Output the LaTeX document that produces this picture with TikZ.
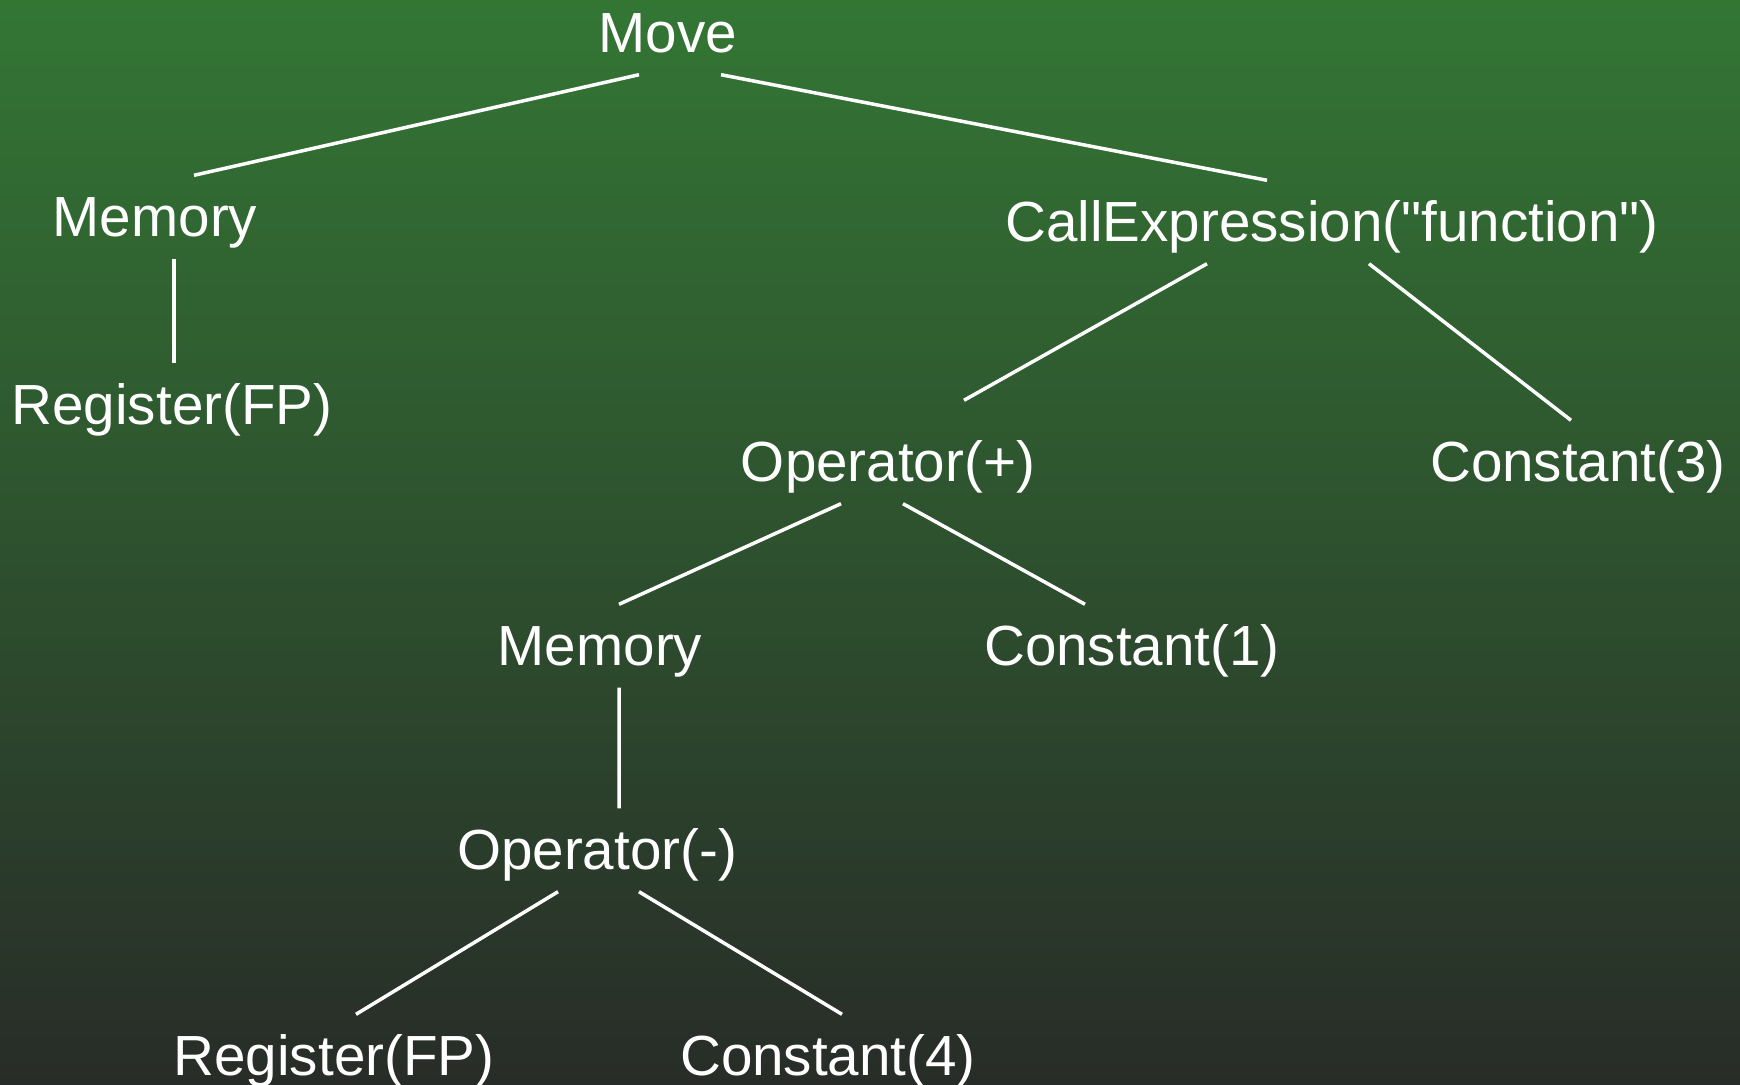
\documentclass[tikz,border=0pt]{standalone}
\usepackage{fontspec}
\setmainfont{Liberation Sans}
\usepackage{xcolor}
\usetikzlibrary{positioning}

\definecolor{bgtop}{HTML}{337634}
\definecolor{bgbottom}{HTML}{282C28}

\begin{document}
\begin{tikzpicture}[
  treenode/.style={anchor=base, text=white, inner sep=0pt,
                   font=\fontsize{16.1}{19}\selectfont,
                   text height=6mm, text depth=2.2mm},
  branch/.style={draw=white, line width=0.35mm}
]
% ---- BACKGROUND ----
\shade[top color=bgtop, bottom color=bgbottom] (0, 0) rectangle (17.4, -10.85);
\useasboundingbox (0, 0) rectangle (17.4, -10.85);

% ---- NODES ----
\node[treenode] (move) at (6.68, -0.52) {Move};

\node[treenode] (mem1) at (1.55, -2.36) {Memory};
\node[treenode] (call) at (13.32, -2.41) {CallExpression(\textquotedbl function\textquotedbl)};

\node[treenode] (reg1) at (1.72, -4.24) {Register(FP)};
\node[treenode] (opplus) at (8.88, -4.81) {Operator(+)};
\node[treenode] (const3) at (15.78, -4.81) {Constant(3)};

\node[treenode] (mem2) at (6.00, -6.65) {Memory};
\node[treenode] (const1) at (11.32, -6.65) {Constant(1)};

\node[treenode] (opminus) at (5.97, -8.69) {Operator(-)};

\node[treenode] (reg2) at (3.34, -10.75) {Register(FP)};
\node[treenode] (const4) at (8.28, -10.75) {Constant(4)};

% ---- BRANCHES ----
\draw[branch] ([xshift=-0.29cm]move.south) -- ([xshift=0.39cm]mem1.north);
\draw[branch] ([xshift=0.53cm]move.south) -- ([xshift=-0.65cm]call.north);

\draw[branch] ([xshift=0.19cm]mem1.south) -- ([xshift=0.02cm]reg1.north);

\draw[branch] ([xshift=-1.25cm]call.south) -- ([xshift=0.76cm, yshift=2mm]opplus.north);
\draw[branch] ([xshift=0.37cm]call.south) -- ([xshift=-0.07cm]const3.north);

\draw[branch] ([xshift=-0.47cm]opplus.south) -- ([xshift=0.19cm]mem2.north);
\draw[branch] ([xshift=0.15cm]opplus.south) -- ([xshift=-0.47cm]const1.north);

\draw[branch] ([xshift=0.19cm]mem2.south) -- ([xshift=0.22cm]opminus.north);

\draw[branch] ([xshift=-0.39cm]opminus.south) -- ([xshift=0.22cm]reg2.north);
\draw[branch] ([xshift=0.42cm]opminus.south) -- ([xshift=0.14cm]const4.north);

\end{tikzpicture}
\end{document}
